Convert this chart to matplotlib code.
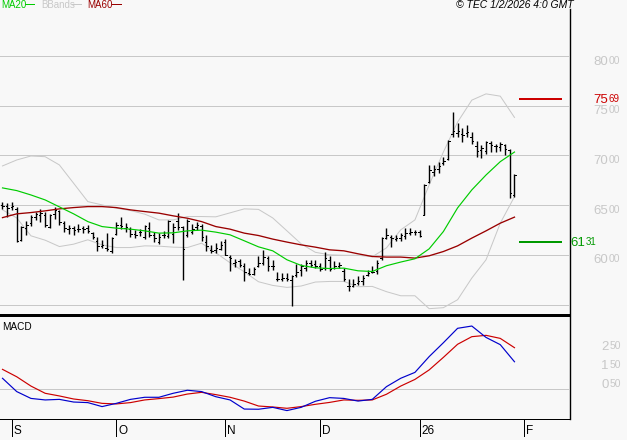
import numpy as np
import matplotlib
matplotlib.use('Agg')
import matplotlib.pyplot as plt

# price bars, one per session
highs = [65.35, 65.18, 65.35, 64.85, 62.91, 63.44, 64.01, 64.35, 64.58, 64.35, 64.11, 64.85, 64.52, 63.41, 63.01,
         62.91, 63.11, 62.91, 63.01, 62.34, 61.77, 61.44, 62.24, 61.84, 63.28, 63.78, 63.24, 62.77, 62.51, 62.57,
         63.01, 63.34, 62.27, 62.17, 62.41, 63.51, 63.18, 64.18, 62.91, 63.58, 63.11, 63.34, 63.11, 62.01, 60.98,
         61.23, 61.43, 61.60, 59.96, 59.56, 59.56, 59.16, 58.66, 58.82, 59.83, 60.50, 59.89, 59.49, 58.22, 58.15,
         58.15, 57.99, 59.06, 59.06, 59.49, 59.49, 59.43, 59.16, 60.33, 59.83, 59.33, 59.23, 58.66, 57.59, 57.55,
         57.82, 57.99, 58.49, 58.89, 59.43, 61.84, 62.67, 62.00, 62.00, 62.17, 62.67, 62.68, 62.51, 62.51, 67.13,
         69.04, 69.04, 69.37, 69.87, 71.54, 74.39, 73.22, 72.71, 73.05, 72.31, 71.44, 71.04, 71.44, 71.44, 71.14,
         71.31, 71.11, 70.64, 68.13]
lows = [64.58, 63.85, 64.52, 61.24, 61.34, 62.01, 62.91, 63.51, 63.34, 62.84, 62.71, 63.58, 63.01, 62.34, 62.11,
        62.01, 62.27, 62.17, 62.24, 61.57, 60.40, 60.73, 60.43, 60.23, 62.01, 62.57, 62.34, 61.77, 61.74, 61.91,
        61.57, 61.77, 61.24, 61.10, 61.67, 61.67, 61.17, 62.51, 57.49, 61.77, 62.11, 62.51, 61.34, 60.43, 60.23,
        60.23, 60.50, 59.96, 58.32, 58.82, 58.82, 57.32, 57.99, 57.99, 58.82, 58.99, 58.32, 58.49, 57.32, 57.32,
        57.32, 54.81, 57.75, 57.89, 58.42, 58.76, 58.66, 58.32, 58.49, 58.42, 58.59, 58.66, 57.32, 56.31, 56.75,
        56.98, 56.92, 57.82, 58.15, 58.09, 59.49, 61.57, 60.83, 61.43, 61.43, 61.57, 62.01, 62.01, 61.77, 63.98,
        67.20, 67.93, 68.27, 69.04, 69.54, 71.88, 71.81, 71.38, 71.81, 71.11, 69.87, 69.70, 70.14, 70.37, 70.37,
        70.47, 70.04, 65.69, 65.86]
opens = [65.0, 64.9, 64.8, 64.6, 61.5, 62.7, 63.2, 63.8, 64.0, 64.0, 62.8, 64.1, 64.4, 63.2, 62.6,
         62.7, 62.6, 62.7, 62.7, 62.2, 61.4, 60.9, 60.7, 60.4, 62.1, 63.0, 62.7, 62.6, 62.1, 62.3,
         61.8, 62.7, 62.0, 61.3, 62.0, 61.9, 62.1, 63.4, 62.8, 62.0, 62.3, 62.8, 62.9, 61.3, 60.5,
         60.5, 60.6, 61.3, 59.8, 59.2, 59.4, 58.9, 58.2, 58.1, 58.9, 59.2, 59.7, 58.9, 57.6, 57.6,
         57.7, 57.5, 58.0, 58.5, 58.7, 59.2, 59.1, 58.9, 58.7, 59.5, 58.7, 58.9, 58.4, 56.9, 56.9,
         57.2, 57.4, 58.0, 58.3, 58.4, 59.7, 61.7, 61.8, 61.6, 61.7, 61.9, 62.2, 62.3, 62.3, 64.0,
         67.3, 68.3, 68.6, 69.2, 69.6, 72.2, 72.3, 72.2, 72.3, 71.9, 70.9, 70.5, 70.4, 71.2, 70.9,
         70.8, 71.0, 70.5, 66.0]
closes = [64.9, 64.7, 64.9, 61.4, 62.8, 63.0, 63.8, 64.1, 64.2, 63.0, 64.0, 64.5, 63.3, 62.7, 62.7,
          62.5, 62.6, 62.6, 62.4, 61.8, 60.9, 61.0, 60.6, 61.7, 63.0, 62.9, 62.8, 62.1, 62.0, 62.3,
          62.9, 62.0, 61.7, 61.8, 62.0, 63.4, 62.8, 62.8, 60.6, 63.4, 62.6, 63.0, 61.8, 60.9, 60.4,
          60.7, 61.0, 60.0, 59.7, 59.3, 59.0, 58.3, 58.1, 58.6, 59.2, 59.8, 58.9, 58.9, 57.6, 57.7,
          57.6, 57.9, 58.3, 58.9, 59.2, 59.0, 58.9, 58.6, 59.7, 58.6, 58.9, 59.0, 57.6, 56.9, 57.1,
          57.4, 57.7, 58.2, 58.3, 59.2, 61.7, 62.0, 61.7, 61.7, 62.0, 62.2, 62.3, 62.3, 61.9, 67.0,
          68.5, 68.6, 68.9, 69.4, 71.4, 72.5, 72.5, 72.1, 72.4, 71.4, 70.4, 70.7, 71.3, 71.0, 70.9,
          71.1, 70.6, 66.2, 68.0]

# indicators are read every third session
line_idx = list(range(0, 109, 3))
ma20 = [66.73, 66.46, 66.02, 65.52, 64.82, 64.12, 63.34, 62.84, 62.68, 62.58, 62.41, 62.18, 62.21, 62.41, 62.48,
        62.28, 62.01, 61.41, 60.80, 60.40, 59.50, 58.93, 58.69, 58.62, 58.66, 58.39, 58.32, 58.90, 59.27, 59.60,
        60.60, 62.34, 64.72, 66.53, 68.03, 69.37, 70.34]
ma60 = [63.74, 64.12, 64.25, 64.42, 64.62, 64.75, 64.85, 64.85, 64.75, 64.52, 64.35, 64.19, 63.92, 63.68, 63.34,
        62.84, 62.58, 62.18, 61.94, 61.58, 61.28, 61.00, 60.77, 60.50, 60.40, 60.10, 59.83, 59.77, 59.77, 59.67,
        59.90, 60.33, 60.90, 61.68, 62.41, 63.18, 63.79]
bb_upper = [68.94, 69.54, 69.94, 69.87, 69.04, 67.20, 65.35, 65.02, 64.69, 64.45, 64.09, 63.51, 63.51, 63.85, 63.85,
            63.82, 64.22, 64.62, 64.57, 63.71, 62.41, 61.10, 60.25, 60.00, 59.95, 59.95, 59.80, 60.70, 62.51, 63.51,
            67.03, 70.34, 73.35, 75.56, 76.19, 75.96, 73.82]
bb_lower = [64.52, 63.71, 61.91, 61.47, 60.83, 61.07, 61.51, 61.00, 60.73, 60.73, 60.90, 60.87, 60.77, 60.73, 61.17,
            60.20, 59.20, 58.29, 57.29, 56.92, 56.72, 56.86, 57.26, 57.32, 57.32, 56.79, 56.82, 56.29, 55.88, 55.88,
            54.58, 54.68, 55.48, 57.66, 59.50, 63.18, 65.85]
macd_line = [0.58, -0.12, -0.48, -0.56, -0.53, -0.67, -0.70, -0.91, -0.74, -0.53, -0.42, -0.42, -0.21, -0.05, -0.12,
             -0.39, -0.56, -1.04, -1.05, -0.95, -1.12, -0.95, -0.63, -0.44, -0.48, -0.62, -0.53, 0.14, 0.58, 0.89,
             1.72, 2.45, 3.21, 3.33, 2.73, 2.35, 1.45]
macd_signal = [1.05, 0.66, 0.17, -0.21, -0.35, -0.51, -0.60, -0.74, -0.77, -0.70, -0.56, -0.49, -0.41, -0.25, -0.16,
               -0.28, -0.42, -0.62, -0.88, -0.93, -1.00, -0.91, -0.79, -0.69, -0.56, -0.58, -0.56, -0.26, 0.17, 0.52,
               1.02, 1.68, 2.37, 2.77, 2.84, 2.68, 2.19]

price_ticks = [55, 60, 65, 70, 75, 80]
price_labels = [('80', '00', 80), ('75', '00', 75), ('70', '00', 70), ('65', '00', 65), ('60', '00', 60)]
macd_labels = [('2', '50', 2.5), ('1', '50', 1.5), ('0', '50', 0.5)]
month_idx = [2, 24, 47, 67, 88, 110]
month_names = ['S', 'O', 'N', 'D', '26', 'F']
last_high = 75.69
last_low = 61.31

BG = '#F8F8F8'
GRID = '#C8C8C8'
THIN = 0.72
W, H = 627.0, 440.0
FONT = 'Liberation Sans'

plt.rcParams['font.family'] = FONT
fig = plt.figure(figsize=(6.27, 4.40), dpi=100, facecolor=BG)


def panel(top, bottom):
    ax = fig.add_axes([0, 1 - bottom / H, 569 / W, (bottom - top) / H], facecolor=BG)
    ax.set_xlim(-0.527, 119.5)
    ax.set_xticks([])
    ax.set_yticks([])
    for side in ax.spines.values():
        side.set_visible(False)
    return ax


def scale_label(ax, big, small, value, x, color, dy=-5.5, small_size=7.5):
    # value with the cents in a smaller size, the way the chart prints them
    t = ax.annotate(big, xy=(x, value), xycoords=('figure pixels', 'data'), xytext=(0, dy),
                    textcoords='offset pixels', color=color, fontsize=9.5, ha='left', va='center')
    width = t.get_window_extent(fig.canvas.get_renderer()).width
    ax.annotate(small, xy=(x + width + 1, value), xycoords=('figure pixels', 'data'), xytext=(0, dy + 1),
                textcoords='offset pixels', color=color, fontsize=small_size, ha='left', va='center')


# main panel
ax = panel(0, 315)
ax.set_ylim(80 - (315 - 56) / 9.94, 80 + 56 / 9.94)
ax.hlines(price_ticks, -1, 120, color=GRID, lw=THIN, antialiased=False, zorder=1)

ax.plot(line_idx, bb_upper, color=GRID, lw=THIN, zorder=2)
ax.plot(line_idx, bb_lower, color=GRID, lw=THIN, zorder=2)

idx = np.arange(len(highs))
ax.vlines(idx, lows, highs, color='black', lw=1.0, zorder=3)
ax.hlines(opens, idx - 0.3, idx, color='black', lw=THIN, antialiased=False, zorder=3)
ax.hlines(closes, idx, idx + 0.3, color='black', lw=THIN, antialiased=False, zorder=3)

ax.plot(line_idx, ma60, color='#990000', lw=0.95, zorder=4)
ax.plot(line_idx, ma20, color='#00CC00', lw=0.85, zorder=4)

ax.hlines(last_high, 109, 118, color='#CC0000', lw=1.44, zorder=4)
ax.hlines(last_low, 109, 118, color='#009900', lw=1.44, zorder=4)

for big, small, value in price_labels:
    scale_label(ax, big, small, value, 593, GRID)
scale_label(ax, '75', '69', last_high, 593, '#CC0000', dy=-1.5, small_size=7)
scale_label(ax, '61', '31', last_low, 570, '#009900', dy=-1.5, small_size=7)

# MACD panel
ax2 = panel(315, 419)
ax2.set_ylim((389.3 - 419) / 19, (389.3 - 315) / 19)
ax2.axhline(0, color=GRID, lw=THIN, antialiased=False, zorder=1)
ax2.plot(line_idx, macd_line, color='#0000CC', lw=0.85, zorder=3)
ax2.plot(line_idx, macd_signal, color='#CC0000', lw=0.85, zorder=2)
ax2.text(0.004, 0.88, 'MACD', transform=ax2.transAxes, fontsize=7.2, color='black', va='center')
for big, small, value in macd_labels:
    scale_label(ax2, big, small, value, 601, GRID)

# frame: heavy divider, axis lines and month ticks
fig.add_artist(plt.Line2D([0, 569 / W], [1 - 315 / H] * 2, color='black', lw=1.8, antialiased=False))
fig.add_artist(plt.Line2D([0, 569 / W], [1 - 419 / H] * 2, color='black', lw=THIN, antialiased=False))
fig.add_artist(plt.Line2D([569.5 / W] * 2, [1 - 9 / H, 1 - 419 / H], color='black', lw=1.0))

for pos, name in zip(month_idx, month_names):
    ax2.plot([pos, pos], [0, -0.163], transform=ax2.get_xaxis_transform(), clip_on=False,
             color='black', lw=THIN, antialiased=False)
    ax2.annotate(name, xy=(pos, 0), xycoords=ax2.get_xaxis_transform(), xytext=(2, -12),
                 textcoords='offset pixels', fontsize=8.5, color='black', ha='left', va='center',
                 annotation_clip=False)

# header legend
fig.text(1 / W, 1 - 5 / H, 'MA20', color='#00CC00', fontsize=7, va='center')
fig.add_artist(plt.Line2D([25 / W, 34 / W], [1 - 4.5 / H] * 2, color='#00CC00', lw=THIN, antialiased=False))
fig.text(41 / W, 1 - 5 / H, 'BBands', color=GRID, fontsize=7, va='center')
fig.add_artist(plt.Line2D([72 / W, 81 / W], [1 - 4.5 / H] * 2, color=GRID, lw=THIN, antialiased=False))
fig.text(87 / W, 1 - 5 / H, 'MA60', color='#990000', fontsize=7, va='center')
fig.add_artist(plt.Line2D([112 / W, 121 / W], [1 - 4.5 / H] * 2, color='#990000', lw=THIN, antialiased=False))
fig.text(456 / W, 1 - 5 / H, '\u00a9 TEC 1/2/2026 4:0 GMT', color='black', fontsize=7.5,
         style='italic', va='center')

fig.savefig('out.png', dpi=100, facecolor=BG)
